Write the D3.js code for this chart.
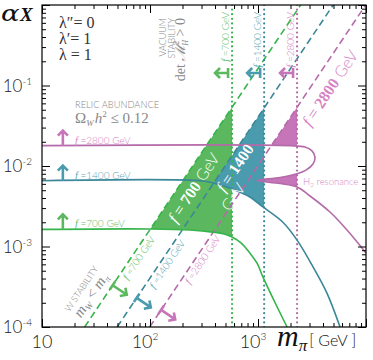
<!DOCTYPE html>
<html><head><meta charset="utf-8">
<script src="https://cdn.jsdelivr.net/npm/d3@7"></script>
<style>
body{margin:0;background:#fff}
svg{display:block}
.sans{font-family:Lato,"Liberation Sans",sans-serif;font-weight:300}
.serif{font-family:"Liberation Serif",serif}
</style></head><body>
<svg id="chart"></svg>
<script>
// values
const fScales = [700, 1400, 2800];                 // GeV
const fLabels = ["700", "1400", "2800"];
const lineColors = ["#35b44a", "#3b8799", "#b56aa9"];
const fillColors = ["#5cb85e", "#4a9bad", "#c676b8"];
const textColors = ["#5fc06a", "#5aa6b6", "#d683c5"];
const stabMass = [575, 1140, 2300];                // vacuum stability bound on m_pi
// relic abundance contours  [m_pi, alpha_X]
const relic700 = [[10,0.00163],[100,0.00165],[235,0.0016],[380,0.00151],[495,0.00142],[575,0.00131],[700,0.0011],[840,0.00083],[980,0.00062],[1110,0.00042],[1440,0.0002],[1860,0.0001]];
const relic1400 = [[10,0.00657],[310,0.00652],[400,0.00606],[610,0.00503],[840,0.00412],[1110,0.0031],[1700,0.002],[2300,0.0012],[3230,0.00056],[4350,0.000264],[5750,0.0001]];
const relic2800 = [[10,0.0179],[1980,0.0179],[2720,0.0172],[3160,0.0154],[3370,0.0129],[3230,0.0106],[2780,0.0089],[2300,0.0080],[1600,0.0072],[980,0.0066],[1600,0.00606],[2300,0.00548],[3030,0.00424],[4640,0.00268],[6670,0.0016],[10000,0.00083]];
const relicCurves = [relic700, relic1400, relic2800];
const xMajor = [10, 100, 1000];
const yMajor = [1e-4, 1e-3, 1e-2, 1e-1];
// where the annotations sit along the m_W = m_pi lines
const dashLabelAlpha = [0.0008, 0.00067, 0.00076];
const dashArrowAlpha = [0.00033, 0.00023, 0.000163];
const bigLabelAlpha = [0.0066, 0.011, 0.121];

const W = 373, H = 360;
var x = d3.scaleLog().domain([10, 1e4]).range([42, 366]);
var y = d3.scaleLog().domain([1e-4, 1]).range([327, 5]);

var svg = d3.select("#chart").attr("width", W).attr("height", H);

svg.append("clipPath").attr("id", "plot")
  .append("rect").attr("x", x(10)).attr("y", y(1)).attr("width", x(1e4) - x(10)).attr("height", y(1e-4) - y(1));

// m_W = m_pi  ->  alpha = m^2 / (4 pi f^2)
function dashAlpha(m, f) { return m * m / (4 * Math.PI * f * f); }
function dashMass(a, f) { return Math.sqrt(4 * Math.PI * a) * f; }

var line = d3.line().x(d => x(d[0])).y(d => y(d[1])).curve(d3.curveCatmullRom.alpha(0.5));

var plot = svg.append("g").attr("clip-path", "url(#plot)");

// allowed regions
fScales.forEach(function(f, i) {
  var ms = stabMass[i];
  var tri = [[dashMass(1e-4, f), 1e-4], [ms, 1e-4], [ms, dashAlpha(ms, f)]];
  svg.append("clipPath").attr("id", "tri" + i)
    .append("path").attr("d", "M" + tri.map(d => x(d[0]) + "," + y(d[1])).join("L") + "Z");
  var pts = relicCurves[i];
  var last = pts[pts.length - 1];
  var d = line(pts) + "L" + x(1e4) + "," + y(last[1]) + "L" + x(1e4) + "," + y(1) + "L" + x(10) + "," + y(1) + "Z";
  plot.append("g").attr("clip-path", "url(#tri" + i + ")")
    .append("path").attr("d", d).attr("fill", fillColors[i]).attr("stroke", "none");
});

// vacuum stability (dotted) and W stability (dashed)
fScales.forEach(function(f, i) {
  plot.append("line")
    .attr("x1", x(stabMass[i])).attr("x2", x(stabMass[i]))
    .attr("y1", y(1)).attr("y2", y(1e-4))
    .attr("stroke", lineColors[i]).attr("stroke-width", 2.2)
    .attr("stroke-linecap", "round").attr("stroke-dasharray", "0 4.6");
  plot.append("line")
    .attr("x1", x(dashMass(1e-4, f))).attr("y1", y(1e-4))
    .attr("x2", x(dashMass(1, f))).attr("y2", y(1))
    .attr("stroke", lineColors[i]).attr("stroke-width", 1.6)
    .attr("stroke-dasharray", "7 4");
});

// relic abundance contours
relicCurves.forEach(function(pts, i) {
  plot.append("path").attr("d", line(pts)).attr("fill", "none")
    .attr("stroke", lineColors[i]).attr("stroke-width", 1.6);
});

// frame + ticks
var minor = [];
[1, 2, 3].forEach(function(e) { for (var k = 2; k < 10; k++) minor.push(k * Math.pow(10, e)); });
var minorY = [];
[-4, -3, -2, -1].forEach(function(e) { for (var k = 2; k < 10; k++) minorY.push(k * Math.pow(10, e)); });
var xMajAll = xMajor.concat([1e4]), yMajAll = yMajor.concat([1]);

function ticks(axis, vals, len) { return axis.tickValues(vals).tickSize(-len).tickFormat(""); }
[[d3.axisBottom, y(1e-4)], [d3.axisTop, y(1)]].forEach(function(a) {
  svg.append("g").attr("class", "axis").attr("transform", "translate(0," + a[1] + ")").call(ticks(a[0](x), minor, 4));
  svg.append("g").attr("class", "axis").attr("transform", "translate(0," + a[1] + ")").call(ticks(a[0](x), xMajAll, 8));
});
[[d3.axisLeft, x(10)], [d3.axisRight, x(1e4)]].forEach(function(a) {
  svg.append("g").attr("class", "axis").attr("transform", "translate(" + a[1] + ",0)").call(ticks(a[0](y), minorY, 4));
  svg.append("g").attr("class", "axis").attr("transform", "translate(" + a[1] + ",0)").call(ticks(a[0](y), yMajAll, 8));
});
svg.selectAll(".axis .domain").remove();
svg.selectAll(".axis line").attr("stroke", "#000");
svg.append("rect").attr("x", x(10)).attr("y", y(1)).attr("width", x(1e4) - x(10)).attr("height", y(1e-4) - y(1))
  .attr("fill", "none").attr("stroke", "#000").attr("stroke-width", 1.2);

// tick labels
yMajor.forEach(function(v) {
  var t = svg.append("text").attr("class", "sans").attr("x", 32).attr("y", y(v) + 6)
    .attr("text-anchor", "end").attr("font-size", 17).attr("fill", "#222");
  t.append("tspan").text("10");
  t.append("tspan").attr("dy", -7).attr("font-size", 10).text("-" + Math.round(-Math.log10(v)));
});
xMajor.forEach(function(v) {
  var e = Math.round(Math.log10(v));
  var t = svg.append("text").attr("class", "sans").attr("x", x(v) - (e > 1 ? 5 : 0)).attr("y", 348)
    .attr("text-anchor", "middle").attr("font-size", 18).attr("fill", "#222");
  t.append("tspan").text("10");
  if (e > 1) t.append("tspan").attr("dy", -8).attr("font-size", 10).text(e);
});

// axis titles
svg.append("text").attr("transform", "translate(1,21) scale(1.25,1)")
  .style("font-family", "'DejaVu Serif',serif").attr("font-style", "italic")
  .attr("font-size", 22).attr("fill", "#111").text("α");
svg.append("text").attr("class", "serif").attr("x", 20).attr("y", 21)
  .attr("font-size", 19).attr("font-style", "italic").attr("font-weight", "bold").attr("fill", "#111").text("X");
var mx = svg.append("text").attr("x", 277).attr("y", 346).attr("fill", "#111");
mx.append("tspan").attr("class", "serif").attr("font-size", 30).attr("font-style", "italic").text("m");
mx.append("tspan").attr("class", "serif").attr("font-size", 17).attr("font-style", "italic").attr("dy", 5).text("π");
mx.append("tspan").attr("class", "sans").attr("font-size", 16).attr("dy", -5).attr("dx", 2).text("[ GeV ]");

// couplings
["λ″= 0", "λ′= 1", "λ = 1"].forEach(function(s, i) {
  svg.append("text").attr("class", "serif").attr("x", 59).attr("y", 28 + i * 16)
    .attr("font-size", 16).attr("fill", "#333").text(s);
});

// relic abundance note
svg.append("text").attr("class", "sans").attr("x", 75).attr("y", 108).attr("font-size", 9.3)
  .attr("fill", "#888").text("RELIC ABUNDANCE");
var om = svg.append("text").attr("class", "serif").attr("x", 75).attr("y", 123).attr("font-size", 15).attr("fill", "#888");
om.append("tspan").text("Ω");
om.append("tspan").attr("font-size", 9).attr("font-style", "italic").attr("dy", 3).text("W");
om.append("tspan").attr("font-style", "italic").attr("dy", -3).attr("dx", 1).text("h");
om.append("tspan").attr("font-size", 9).attr("dy", -6).text("2");
om.append("tspan").attr("dy", 6).text(" ≤ 0.12");

// vacuum stability note
function vtext(xp, cls, size, fill) {
  return svg.append("text").attr("class", cls).attr("transform", "translate(" + xp + ",18) rotate(-90)")
    .attr("text-anchor", "end").attr("font-size", size).attr("fill", fill);
}
vtext(166, "sans", 9, "#888").text("VACUUM");
vtext(174.5, "sans", 9, "#888").text("STABILITY");
var det = vtext(185, "serif", 14, "#888");
det.append("tspan").text("det ");
det.append("tspan").attr("font-style", "italic").text("ℳ");
det.append("tspan").attr("font-size", 8).attr("dy", -6).text("2");
det.append("tspan").attr("font-size", 8).attr("font-style", "italic").attr("dy", 9).attr("dx", -5).text("H");
det.append("tspan").attr("dy", -3).text(" > 0");

function fText(sel, label) {
  sel.append("tspan").attr("class", "serif").attr("font-style", "italic").text("f");
  sel.append("tspan").attr("class", "sans").text(" =" + label + " GeV");
}

// arrows
function arrow(p, dir, len, color, bar) {
  var x0 = p[0], y0 = p[1], ux = dir[0], uy = dir[1];
  var x1 = x0 + ux * len, y1 = y0 + uy * len, px = -uy, py = ux, h = 5;
  var d = "M" + x0 + "," + y0 + "L" + x1 + "," + y1 +
    "M" + (x1 - ux * h + px * h) + "," + (y1 - uy * h + py * h) + "L" + x1 + "," + y1 +
    "L" + (x1 - ux * h - px * h) + "," + (y1 - uy * h - py * h);
  if (bar) d += "M" + (x0 + px * 5) + "," + (y0 + py * 5) + "L" + (x0 - px * 5) + "," + (y0 - py * 5);
  svg.append("path").attr("d", d).attr("fill", "none").attr("stroke", color).attr("stroke-width", 2.6);
}

// relic lines: labels + up arrows
fScales.forEach(function(f, i) {
  var a0 = relicCurves[i][0][1];
  arrow([x(15.6), y(a0)], [0, -1], 15, fillColors[i], false);
  var t = svg.append("text").attr("x", x(20.2)).attr("y", y(a0) - 2).attr("font-size", 10).attr("fill", textColors[i]);
  fText(t, fLabels[i]);
});

// vacuum stability lines: labels + left arrows
fScales.forEach(function(f, i) {
  var t = svg.append("text").attr("transform", "translate(" + (x(stabMass[i]) - 3.5) + ",12) rotate(-90)")
    .attr("text-anchor", "end").attr("font-size", 10).attr("fill", textColors[i]);
  fText(t, fLabels[i]);
  arrow([x(stabMass[i]) - 4, y(0.143)], [-1, 0], 13, fillColors[i], true);
});

// geometry of the dashed lines in screen space
var p1 = [x(100), y(dashAlpha(100, 700))], p2 = [x(1000), y(dashAlpha(1000, 700))];
var len = Math.hypot(p2[0] - p1[0], p2[1] - p1[1]);
var tdir = [(p2[0] - p1[0]) / len, (p2[1] - p1[1]) / len];   // up-right along line
var ndir = [-tdir[1], tdir[0]];                               // down-right normal
var ang = Math.atan2(tdir[1], tdir[0]) * 180 / Math.PI;
function onLine(a, f, d) {
  return [x(dashMass(a, f)) + ndir[0] * d, y(a) + ndir[1] * d];
}

fScales.forEach(function(f, i) {
  var p = onLine(dashLabelAlpha[i], f, 6.5);
  var t = svg.append("text").attr("transform", "translate(" + p[0] + "," + p[1] + ") rotate(" + ang + ")")
    .attr("text-anchor", "middle").attr("dy", "0.35em").attr("font-size", 10).attr("fill", textColors[i]);
  fText(t, fLabels[i]);
  arrow(onLine(dashArrowAlpha[i], f, 0), ndir, 17, fillColors[i], true);
});

// W stability note
(function() {
  var p = onLine(0.000204, 700, -24);
  svg.append("text").attr("class", "sans").attr("transform", "translate(" + p[0] + "," + p[1] + ") rotate(" + ang + ")")
    .attr("text-anchor", "middle").attr("dy", "0.35em").attr("font-size", 9).attr("fill", "#888").text("W STABILITY");
  var q = onLine(0.000204, 700, -13);
  var t = svg.append("text").attr("class", "serif").attr("transform", "translate(" + q[0] + "," + q[1] + ") rotate(" + ang + ")")
    .attr("text-anchor", "middle").attr("dy", "0.35em").attr("font-size", 15).attr("fill", "#888").attr("font-style", "italic");
  t.append("tspan").text("m");
  t.append("tspan").attr("font-size", 9).attr("dy", 3).text("W");
  t.append("tspan").attr("dy", -3).attr("font-style", "normal").text(" < ");
  t.append("tspan").text("m");
  t.append("tspan").attr("font-size", 9).attr("dy", 3).text("π");
})();

// big labels inside / along the regions
function bigLabel(p, color, num, unit, size) {
  var t = svg.append("text").attr("transform", "translate(" + p[0] + "," + p[1] + ") rotate(" + ang + ")")
    .attr("text-anchor", "middle").attr("dy", "0.35em").attr("font-size", size).attr("fill", color);
  t.append("tspan").attr("class", "serif").attr("font-style", "italic").text("f");
  t.append("tspan").attr("class", "serif").text(" = ");
  t.append("tspan").attr("class", "serif").attr("font-weight", "bold").text(num);
  if (unit) t.append("tspan").attr("class", "sans").text(" GeV");
  return t;
}
bigLabel(onLine(bigLabelAlpha[0], 700, 13), "#fff", "700", true, 16);
bigLabel(onLine(bigLabelAlpha[1], 1400, 9), "#fff", "1400", false, 16);
(function() {
  var p = onLine(bigLabelAlpha[1] * 0.55, 1400, 24);
  svg.append("text").attr("class", "sans").attr("transform", "translate(" + p[0] + "," + p[1] + ") rotate(" + ang + ")")
    .attr("text-anchor", "middle").attr("dy", "0.35em").attr("font-size", 16).attr("fill", "#fff").text("GeV");
})();
bigLabel(onLine(bigLabelAlpha[2], 2800, 16.5), textColors[2], "2800", true, 16);

// resonance
var hr = svg.append("text").attr("class", "sans").attr("x", 303).attr("y", 184.5).attr("font-size", 9.5).attr("fill", textColors[2]);
hr.append("tspan").text("H");
hr.append("tspan").attr("font-size", 6.5).attr("dy", 2).text("2");
hr.append("tspan").attr("dy", -2).text(" resonance");
</script>
</body></html>
